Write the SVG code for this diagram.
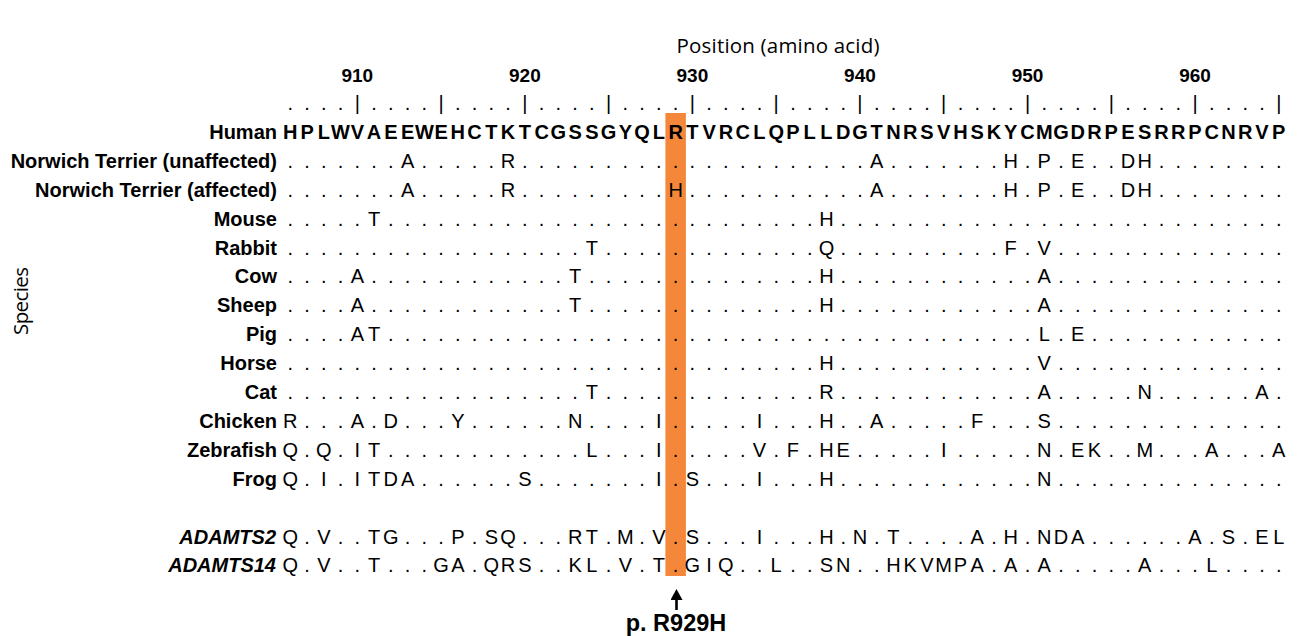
<svg xmlns="http://www.w3.org/2000/svg" width="1302" height="636" viewBox="0 0 1302 636">
<style>
.lbl{font-family:"Liberation Sans",Arial,sans-serif;font-size:20px;font-weight:bold;text-anchor:end;fill:#000}
.it{font-style:italic}
.seq{font-family:"Liberation Sans",Arial,sans-serif;font-size:20px;text-anchor:middle;fill:#000}
.hum{font-weight:bold}
.num{font-family:"Liberation Sans",Arial,sans-serif;font-size:19px;font-weight:bold;text-anchor:middle;fill:#000}
.cal{font-family:"Open Sans","Noto Sans",sans-serif;font-size:20.5px;text-anchor:middle;fill:#000}
</style>
<defs>
<marker id="ah" markerWidth="12" markerHeight="12" refX="1" refY="6" orient="auto" markerUnits="userSpaceOnUse"><path d="M0,0 L11,6 L0,12 z" fill="#000"/></marker>
</defs>
<rect width="1302" height="636" fill="#fff"/>
<rect id="highlight" x="665.4" y="113" width="20.5" height="463" fill="#F5873A"/>
<text id="title" class="cal" x="778" y="53" textLength="203" lengthAdjust="spacing">Position (amino acid)</text>
<text id="yaxis" class="cal" transform="translate(28,301) rotate(-90)" textLength="68" lengthAdjust="spacing">Species</text>
<g id="ruler">
<text class="num" x="357.32" y="82">910</text>
<text class="num" x="524.86" y="82">920</text>
<text class="num" x="692.4" y="82">930</text>
<text class="num" x="859.94" y="82">940</text>
<text class="num" x="1027.48" y="82">950</text>
<text class="num" x="1195.02" y="82">960</text>
<text class="seq" y="110" x="290.3 307.05 323.81 340.56 357.32 374.07 390.82 407.58 424.33 441.09 457.84 474.59 491.35 508.1 524.86 541.61 558.36 575.12 591.87 608.63 625.38 642.13 658.89 675.64 692.4 709.15 725.9 742.66 759.41 776.17 792.92 809.67 826.43 843.18 859.94 876.69 893.44 910.2 926.95 943.71 960.46 977.21 993.97 1010.72 1027.48 1044.23 1060.98 1077.74 1094.49 1111.25 1128 1144.75 1161.51 1178.26 1195.02 1211.77 1228.52 1245.28 1262.03 1278.79">....|....|....|....|....|....|....|....|....|....|....|....|</text>
</g>
<g id="row-human">
<text class="lbl" x="277" y="138.9">Human</text>
<text class="seq hum" y="138.9" x="290.3 307.05 323.81 340.56 357.32 374.07 390.82 407.58 424.33 441.09 457.84 474.59 491.35 508.1 524.86 541.61 558.36 575.12 591.87 608.63 625.38 642.13 658.89 675.64 692.4 709.15 725.9 742.66 759.41 776.17 792.92 809.67 826.43 843.18 859.94 876.69 893.44 910.2 926.95 943.71 960.46 977.21 993.97 1010.72 1027.48 1044.23 1060.98 1077.74 1094.49 1111.25 1128 1144.75 1161.51 1178.26 1195.02 1211.77 1228.52 1245.28 1262.03 1278.79">HPLWVAEEWEHCTKTCGSSGYQLRTVRCLQPLLDGTNRSVHSKYCMGDRPESRRPCNRVP</text>
</g>
<g id="row-nt-unaffected">
<text class="lbl" x="277" y="167.8">Norwich Terrier (unaffected)</text>
<text class="seq" y="167.8" x="290.3 307.05 323.81 340.56 357.32 374.07 390.82 407.58 424.33 441.09 457.84 474.59 491.35 508.1 524.86 541.61 558.36 575.12 591.87 608.63 625.38 642.13 658.89 675.64 692.4 709.15 725.9 742.66 759.41 776.17 792.92 809.67 826.43 843.18 859.94 876.69 893.44 910.2 926.95 943.71 960.46 977.21 993.97 1010.72 1027.48 1044.23 1060.98 1077.74 1094.49 1111.25 1128 1144.75 1161.51 1178.26 1195.02 1211.77 1228.52 1245.28 1262.03 1278.79">.......A.....R.....................A.......H.P.E..DH........</text>
</g>
<g id="row-nt-affected">
<text class="lbl" x="277" y="196.7">Norwich Terrier (affected)</text>
<text class="seq" y="196.7" x="290.3 307.05 323.81 340.56 357.32 374.07 390.82 407.58 424.33 441.09 457.84 474.59 491.35 508.1 524.86 541.61 558.36 575.12 591.87 608.63 625.38 642.13 658.89 675.64 692.4 709.15 725.9 742.66 759.41 776.17 792.92 809.67 826.43 843.18 859.94 876.69 893.44 910.2 926.95 943.71 960.46 977.21 993.97 1010.72 1027.48 1044.23 1060.98 1077.74 1094.49 1111.25 1128 1144.75 1161.51 1178.26 1195.02 1211.77 1228.52 1245.28 1262.03 1278.79">.......A.....R.........H...........A.......H.P.E..DH........</text>
</g>
<g id="row-mouse">
<text class="lbl" x="277" y="225.6">Mouse</text>
<text class="seq" y="225.6" x="290.3 307.05 323.81 340.56 357.32 374.07 390.82 407.58 424.33 441.09 457.84 474.59 491.35 508.1 524.86 541.61 558.36 575.12 591.87 608.63 625.38 642.13 658.89 675.64 692.4 709.15 725.9 742.66 759.41 776.17 792.92 809.67 826.43 843.18 859.94 876.69 893.44 910.2 926.95 943.71 960.46 977.21 993.97 1010.72 1027.48 1044.23 1060.98 1077.74 1094.49 1111.25 1128 1144.75 1161.51 1178.26 1195.02 1211.77 1228.52 1245.28 1262.03 1278.79">.....T..........................H...........................</text>
</g>
<g id="row-rabbit">
<text class="lbl" x="277" y="254.5">Rabbit</text>
<text class="seq" y="254.5" x="290.3 307.05 323.81 340.56 357.32 374.07 390.82 407.58 424.33 441.09 457.84 474.59 491.35 508.1 524.86 541.61 558.36 575.12 591.87 608.63 625.38 642.13 658.89 675.64 692.4 709.15 725.9 742.66 759.41 776.17 792.92 809.67 826.43 843.18 859.94 876.69 893.44 910.2 926.95 943.71 960.46 977.21 993.97 1010.72 1027.48 1044.23 1060.98 1077.74 1094.49 1111.25 1128 1144.75 1161.51 1178.26 1195.02 1211.77 1228.52 1245.28 1262.03 1278.79">..................T.............Q..........F.V..............</text>
</g>
<g id="row-cow">
<text class="lbl" x="277" y="283.4">Cow</text>
<text class="seq" y="283.4" x="290.3 307.05 323.81 340.56 357.32 374.07 390.82 407.58 424.33 441.09 457.84 474.59 491.35 508.1 524.86 541.61 558.36 575.12 591.87 608.63 625.38 642.13 658.89 675.64 692.4 709.15 725.9 742.66 759.41 776.17 792.92 809.67 826.43 843.18 859.94 876.69 893.44 910.2 926.95 943.71 960.46 977.21 993.97 1010.72 1027.48 1044.23 1060.98 1077.74 1094.49 1111.25 1128 1144.75 1161.51 1178.26 1195.02 1211.77 1228.52 1245.28 1262.03 1278.79">....A............T..............H............A..............</text>
</g>
<g id="row-sheep">
<text class="lbl" x="277" y="312.3">Sheep</text>
<text class="seq" y="312.3" x="290.3 307.05 323.81 340.56 357.32 374.07 390.82 407.58 424.33 441.09 457.84 474.59 491.35 508.1 524.86 541.61 558.36 575.12 591.87 608.63 625.38 642.13 658.89 675.64 692.4 709.15 725.9 742.66 759.41 776.17 792.92 809.67 826.43 843.18 859.94 876.69 893.44 910.2 926.95 943.71 960.46 977.21 993.97 1010.72 1027.48 1044.23 1060.98 1077.74 1094.49 1111.25 1128 1144.75 1161.51 1178.26 1195.02 1211.77 1228.52 1245.28 1262.03 1278.79">....A............T..............H............A..............</text>
</g>
<g id="row-pig">
<text class="lbl" x="277" y="341.2">Pig</text>
<text class="seq" y="341.2" x="290.3 307.05 323.81 340.56 357.32 374.07 390.82 407.58 424.33 441.09 457.84 474.59 491.35 508.1 524.86 541.61 558.36 575.12 591.87 608.63 625.38 642.13 658.89 675.64 692.4 709.15 725.9 742.66 759.41 776.17 792.92 809.67 826.43 843.18 859.94 876.69 893.44 910.2 926.95 943.71 960.46 977.21 993.97 1010.72 1027.48 1044.23 1060.98 1077.74 1094.49 1111.25 1128 1144.75 1161.51 1178.26 1195.02 1211.77 1228.52 1245.28 1262.03 1278.79">....AT.......................................L.E............</text>
</g>
<g id="row-horse">
<text class="lbl" x="277" y="370.1">Horse</text>
<text class="seq" y="370.1" x="290.3 307.05 323.81 340.56 357.32 374.07 390.82 407.58 424.33 441.09 457.84 474.59 491.35 508.1 524.86 541.61 558.36 575.12 591.87 608.63 625.38 642.13 658.89 675.64 692.4 709.15 725.9 742.66 759.41 776.17 792.92 809.67 826.43 843.18 859.94 876.69 893.44 910.2 926.95 943.71 960.46 977.21 993.97 1010.72 1027.48 1044.23 1060.98 1077.74 1094.49 1111.25 1128 1144.75 1161.51 1178.26 1195.02 1211.77 1228.52 1245.28 1262.03 1278.79">................................H............V..............</text>
</g>
<g id="row-cat">
<text class="lbl" x="277" y="399">Cat</text>
<text class="seq" y="399" x="290.3 307.05 323.81 340.56 357.32 374.07 390.82 407.58 424.33 441.09 457.84 474.59 491.35 508.1 524.86 541.61 558.36 575.12 591.87 608.63 625.38 642.13 658.89 675.64 692.4 709.15 725.9 742.66 759.41 776.17 792.92 809.67 826.43 843.18 859.94 876.69 893.44 910.2 926.95 943.71 960.46 977.21 993.97 1010.72 1027.48 1044.23 1060.98 1077.74 1094.49 1111.25 1128 1144.75 1161.51 1178.26 1195.02 1211.77 1228.52 1245.28 1262.03 1278.79">..................T.............R............A.....N......A.</text>
</g>
<g id="row-chicken">
<text class="lbl" x="277" y="427.9">Chicken</text>
<text class="seq" y="427.9" x="290.3 307.05 323.81 340.56 357.32 374.07 390.82 407.58 424.33 441.09 457.84 474.59 491.35 508.1 524.86 541.61 558.36 575.12 591.87 608.63 625.38 642.13 658.89 675.64 692.4 709.15 725.9 742.66 759.41 776.17 792.92 809.67 826.43 843.18 859.94 876.69 893.44 910.2 926.95 943.71 960.46 977.21 993.97 1010.72 1027.48 1044.23 1060.98 1077.74 1094.49 1111.25 1128 1144.75 1161.51 1178.26 1195.02 1211.77 1228.52 1245.28 1262.03 1278.79">R...A.D...Y......N....I.....I...H..A.....F...S..............</text>
</g>
<g id="row-zebrafish">
<text class="lbl" x="277" y="456.8">Zebrafish</text>
<text class="seq" y="456.8" x="290.3 307.05 323.81 340.56 357.32 374.07 390.82 407.58 424.33 441.09 457.84 474.59 491.35 508.1 524.86 541.61 558.36 575.12 591.87 608.63 625.38 642.13 658.89 675.64 692.4 709.15 725.9 742.66 759.41 776.17 792.92 809.67 826.43 843.18 859.94 876.69 893.44 910.2 926.95 943.71 960.46 977.21 993.97 1010.72 1027.48 1044.23 1060.98 1077.74 1094.49 1111.25 1128 1144.75 1161.51 1178.26 1195.02 1211.77 1228.52 1245.28 1262.03 1278.79">Q.Q.IT............L...I.....V.F.HE.....I.....N.EK..M...A...A</text>
</g>
<g id="row-frog">
<text class="lbl" x="277" y="485.7">Frog</text>
<text class="seq" y="485.7" x="290.3 307.05 323.81 340.56 357.32 374.07 390.82 407.58 424.33 441.09 457.84 474.59 491.35 508.1 524.86 541.61 558.36 575.12 591.87 608.63 625.38 642.13 658.89 675.64 692.4 709.15 725.9 742.66 759.41 776.17 792.92 809.67 826.43 843.18 859.94 876.69 893.44 910.2 926.95 943.71 960.46 977.21 993.97 1010.72 1027.48 1044.23 1060.98 1077.74 1094.49 1111.25 1128 1144.75 1161.51 1178.26 1195.02 1211.77 1228.52 1245.28 1262.03 1278.79">Q.I.ITDA......S.......I.S...I...H............N..............</text>
</g>
<g id="row-adamts2">
<text class="lbl it" x="276" y="543.5">ADAMTS2</text>
<text class="seq" y="543.5" x="290.3 307.05 323.81 340.56 357.32 374.07 390.82 407.58 424.33 441.09 457.84 474.59 491.35 508.1 524.86 541.61 558.36 575.12 591.87 608.63 625.38 642.13 658.89 675.64 692.4 709.15 725.9 742.66 759.41 776.17 792.92 809.67 826.43 843.18 859.94 876.69 893.44 910.2 926.95 943.71 960.46 977.21 993.97 1010.72 1027.48 1044.23 1060.98 1077.74 1094.49 1111.25 1128 1144.75 1161.51 1178.26 1195.02 1211.77 1228.52 1245.28 1262.03 1278.79">Q.V..TG...P.SQ...RT.M.V.S...I...H.N.T....A.H.NDA......A.S.EL</text>
</g>
<g id="row-adamts14">
<text class="lbl it" x="276" y="572.4">ADAMTS14</text>
<text class="seq" y="572.4" x="290.3 307.05 323.81 340.56 357.32 374.07 390.82 407.58 424.33 441.09 457.84 474.59 491.35 508.1 524.86 541.61 558.36 575.12 591.87 608.63 625.38 642.13 658.89 675.64 692.4 709.15 725.9 742.66 759.41 776.17 792.92 809.67 826.43 843.18 859.94 876.69 893.44 910.2 926.95 943.71 960.46 977.21 993.97 1010.72 1027.48 1044.23 1060.98 1077.74 1094.49 1111.25 1128 1144.75 1161.51 1178.26 1195.02 1211.77 1228.52 1245.28 1262.03 1278.79">Q.V..T...GA.QRS..KL.V.T.GIQ..L..SN..HKVMPA.A.A.....A...L....</text>
</g>
<g id="connectors">
<line x1="676.5" y1="610" x2="676.5" y2="599" stroke="#000" stroke-width="2.6" marker-end="url(#ah)"/>
</g>
<g id="mutation-label">
<text x="676" y="631" font-family="'Liberation Sans',Arial,sans-serif" font-size="23.5" font-weight="bold" text-anchor="middle">p. R929H</text>
</g>
</svg>
